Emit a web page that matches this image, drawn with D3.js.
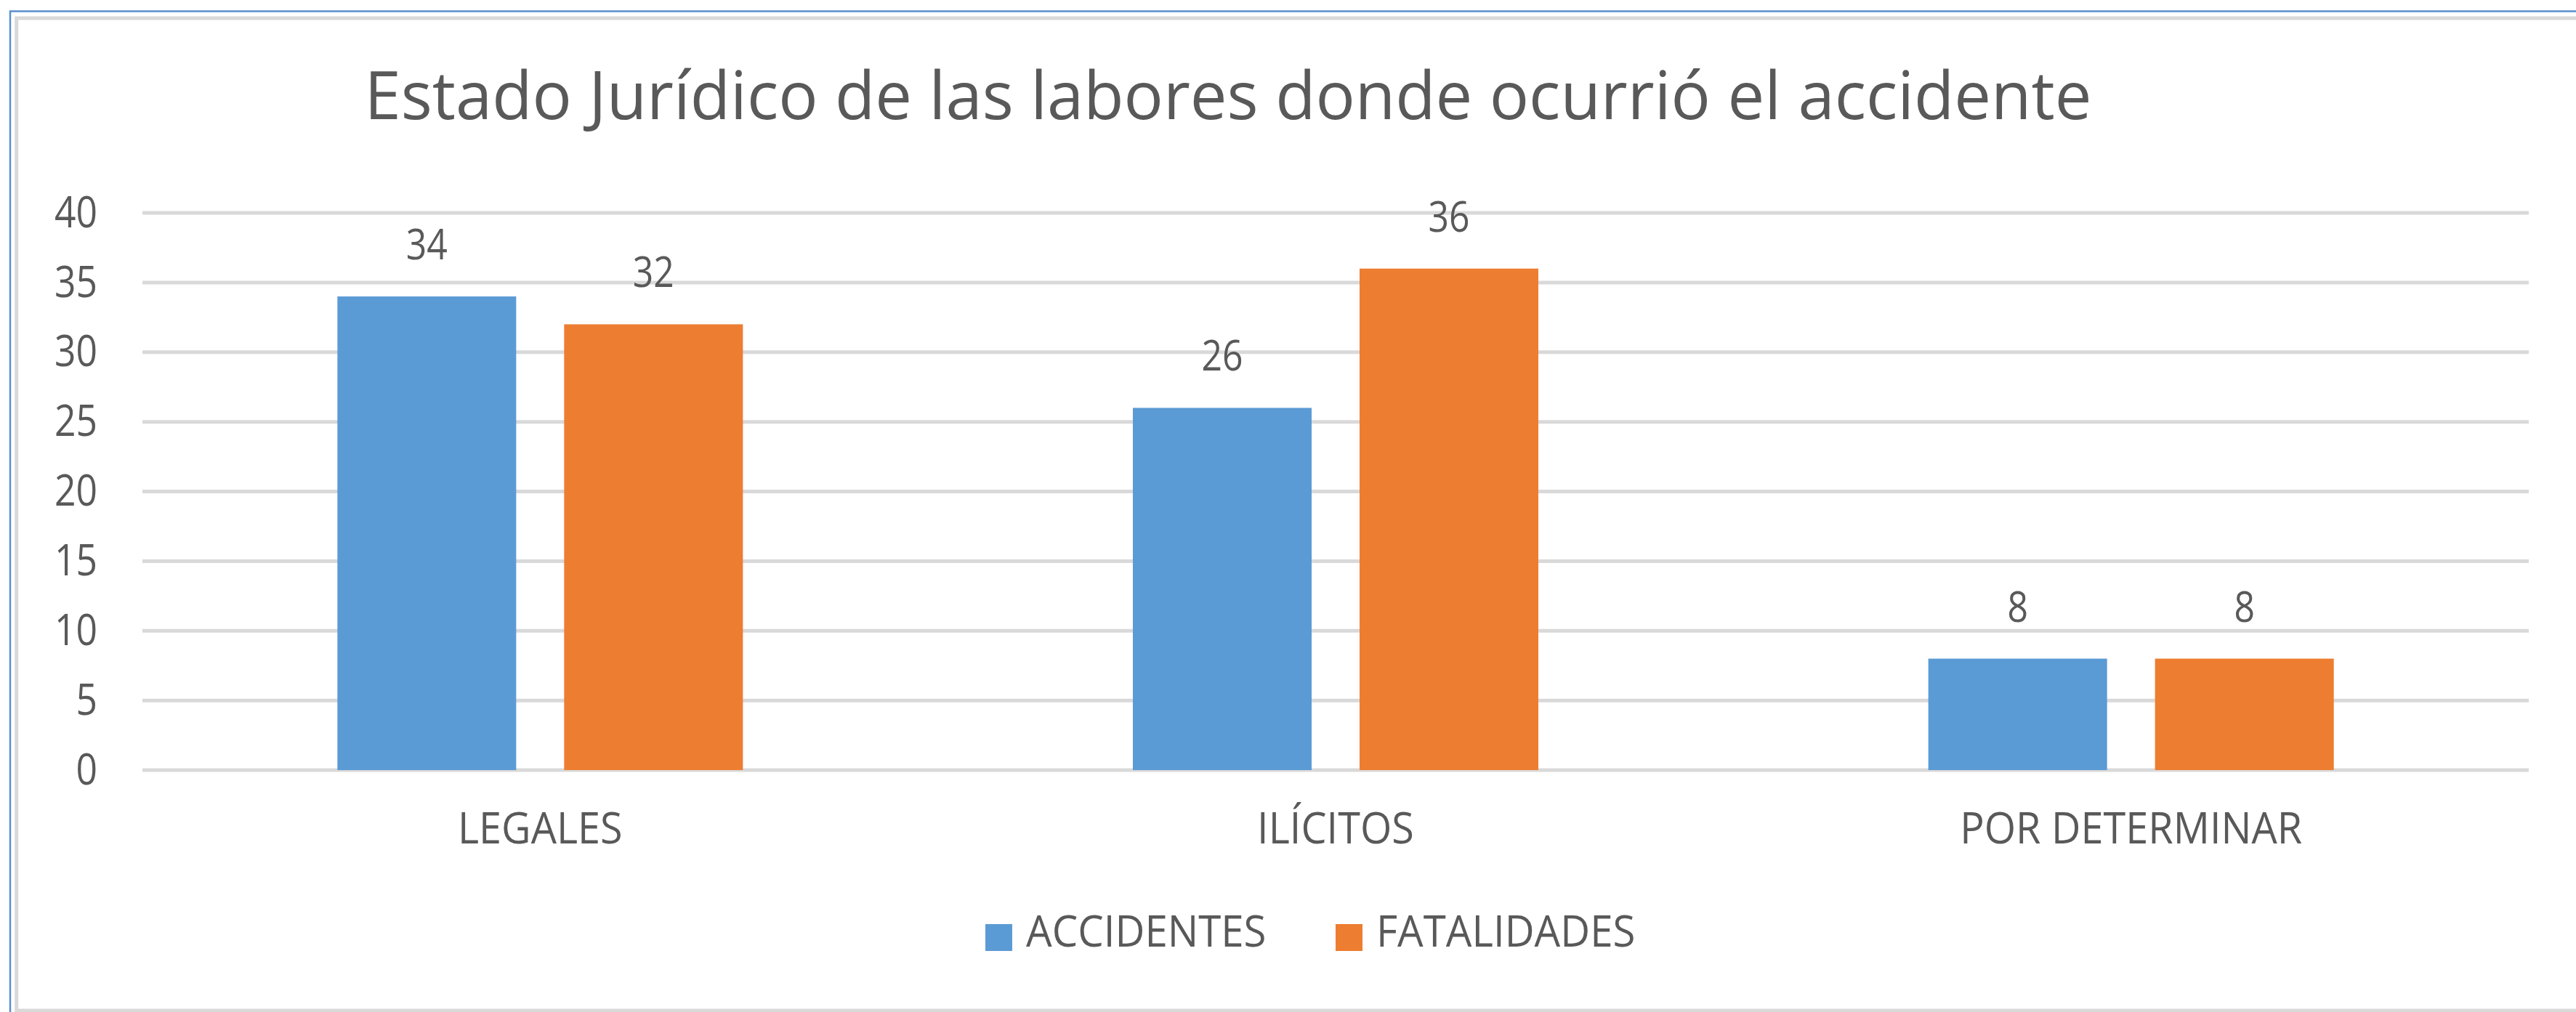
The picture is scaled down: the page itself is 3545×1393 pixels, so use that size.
<!DOCTYPE html>
<html>
<head>
<meta charset="utf-8">
<script src="https://cdn.jsdelivr.net/npm/d3@7"></script>
<style>
body { margin: 0; background: #fff; }
svg text { font-family: "Open Sans", sans-serif; fill: #595959; }
</style>
</head>
<body>
<script>
// chart data
const categories = ["LEGALES", "ILÍCITOS", "POR DETERMINAR"];
const seriesNames = ["ACCIDENTES", "FATALIDADES"];
const accidentes = [34, 26, 8];
const fatalidades = [32, 36, 8];
const yTicks = [0, 5, 10, 15, 20, 25, 30, 35, 40];
const chartTitle = "Estado Jurídico de las labores donde ocurrió el accidente";

const colors = ["#5B9BD5", "#ED7D31"];

// create svg canvas
const canvWidth = 3545, canvHeight = 1393;
const svg = d3.select("body").append("svg")
    .attr("width", canvWidth)
    .attr("height", canvHeight);

const margin = {top: 293, right: 65, bottom: 333, left: 196};
const width = canvWidth - margin.left - margin.right;
const height = canvHeight - margin.top - margin.bottom;

// squeeze text a bit horizontally (Calibri-like narrow look)
const condense = 0.86;
function narrow(sel, factor) {
    sel.each(function () {
        const len = this.getComputedTextLength();
        d3.select(this)
            .attr("textLength", len * (factor || condense))
            .attr("lengthAdjust", "spacingAndGlyphs");
    });
}

// frame
svg.append("rect")
    .attr("x", 14).attr("y", 15.5)
    .attr("width", canvWidth + 100).attr("height", canvHeight + 100)
    .attr("fill", "none")
    .attr("stroke", "#5B8FD0")
    .attr("stroke-width", 2.5);
svg.append("rect")
    .attr("x", 22.7).attr("y", 25)
    .attr("width", canvWidth + 100).attr("height", 1366)
    .attr("fill", "none")
    .attr("stroke", "#D9D9D9")
    .attr("stroke-width", 5);

// title
svg.append("text")
    .attr("x", 1690)
    .attr("y", 164)
    .attr("font-size", "91px")
    .style("text-anchor", "middle")
    .text(chartTitle)
    .attr("textLength", 2377)
    .attr("lengthAdjust", "spacingAndGlyphs");

const g = svg.append("g")
    .attr("id", "chart-area")
    .attr("transform", "translate(" + margin.left + "," + margin.top + ")");

// scales
const yScale = d3.scaleLinear()
    .domain([0, 40])
    .range([height, 0]);

const x0 = d3.scaleBand()
    .domain(categories)
    .range([0, width])
    .padding(0);

const x1 = d3.scaleBand()
    .domain(seriesNames)
    .range([0, x0.bandwidth()])
    .paddingInner(0.2115)
    .paddingOuter(0.86);

// gridlines
g.append("g")
    .attr("id", "grid")
    .selectAll("line")
    .data(yTicks)
    .join("line")
    .attr("x1", 0)
    .attr("x2", width)
    .attr("y1", d => yScale(d))
    .attr("y2", d => yScale(d))
    .attr("stroke", "#D9D9D9")
    .attr("stroke-width", 5);

// y axis labels
const yAxis = d3.axisLeft(yScale).tickValues(yTicks).tickSize(0).tickPadding(62);
g.append("g")
    .attr("id", "y-axis")
    .call(yAxis)
    .call(ax => ax.select(".domain").remove())
    .selectAll("text")
    .attr("font-size", "60px")
    .attr("fill", null)
    .call(narrow);
g.select("#y-axis").attr("font-family", null);

// x axis labels
const xAxis = d3.axisBottom(x0).tickSize(0).tickPadding(58);
g.append("g")
    .attr("id", "x-axis")
    .attr("transform", "translate(0," + height + ")")
    .call(xAxis)
    .call(ax => ax.select(".domain").remove())
    .selectAll("text")
    .attr("font-size", "60px")
    .attr("fill", null)
    .attr("dy", "0.71em")
    .call(narrow, 0.93);
g.select("#x-axis").attr("font-family", null);

// bars
const rows = categories.map((c, i) => ({
    category: c,
    values: [
        {series: seriesNames[0], value: accidentes[i]},
        {series: seriesNames[1], value: fatalidades[i]}
    ]
}));

const groups = g.selectAll("g.group")
    .data(rows)
    .join("g")
    .attr("class", "group")
    .attr("transform", d => "translate(" + x0(d.category) + ",0)");

groups.selectAll("rect")
    .data(d => d.values)
    .join("rect")
    .attr("x", d => x1(d.series))
    .attr("y", d => yScale(d.value))
    .attr("width", x1.bandwidth())
    .attr("height", d => height - yScale(d.value))
    .attr("fill", (d, i) => colors[i]);

groups.selectAll("text.value")
    .data(d => d.values)
    .join("text")
    .attr("class", "value")
    .attr("x", d => x1(d.series) + x1.bandwidth() / 2)
    .attr("y", d => yScale(d.value) - 51)
    .attr("font-size", "58px")
    .style("text-anchor", "middle")
    .text(d => d.value)
    .call(narrow);

// legend
const legend = svg.append("g")
    .attr("id", "legend")
    .attr("transform", "translate(1356,1272)");

const legendEntry = legend.selectAll("g")
    .data(seriesNames)
    .join("g")
    .attr("transform", (d, i) => "translate(" + (i * 482) + ",0)");

legendEntry.append("rect")
    .attr("width", 37)
    .attr("height", 37)
    .attr("fill", (d, i) => colors[i]);

legendEntry.append("text")
    .attr("x", 56)
    .attr("y", 31)
    .attr("font-size", "60px")
    .text(d => d)
    .call(narrow, 0.94);
</script>
</body>
</html>
